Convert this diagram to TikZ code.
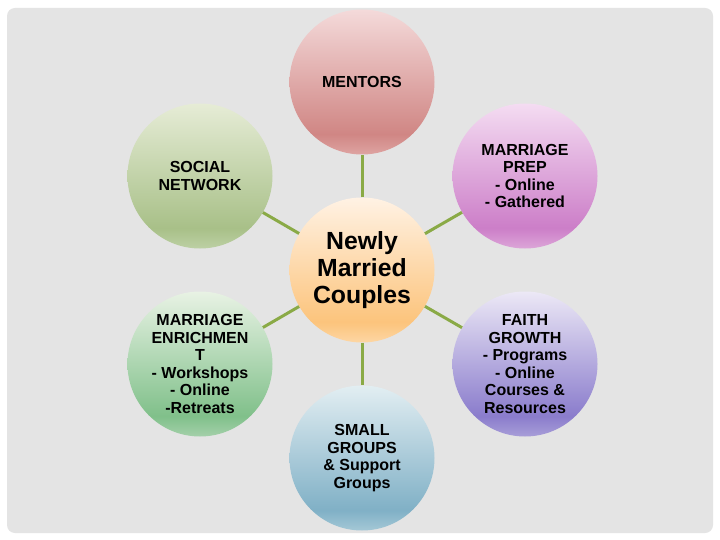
\documentclass[tikz,border=0pt]{standalone}
\usepackage{fontspec}
\setmainfont{Liberation Sans}
\usetikzlibrary{positioning}

\definecolor{pagegrey}{HTML}{E4E4E4}
\definecolor{linkgreen}{HTML}{8AAA46}

% top, dark band, bottom rim for each bubble
\definecolor{mentorsTop}{HTML}{F4DADA}\definecolor{mentorsMid}{HTML}{D08684}\definecolor{mentorsBot}{HTML}{DEA4A2}
\definecolor{prepTop}{HTML}{F4DCF2}\definecolor{prepMid}{HTML}{CC7EC8}\definecolor{prepBot}{HTML}{DCA6D8}
\definecolor{faithTop}{HTML}{ECE8F6}\definecolor{faithMid}{HTML}{8A7CCC}\definecolor{faithBot}{HTML}{A89ED8}
\definecolor{smallTop}{HTML}{E2EEF2}\definecolor{smallMid}{HTML}{80B0C6}\definecolor{smallBot}{HTML}{A4C8D6}
\definecolor{enrichTop}{HTML}{E8F2E4}\definecolor{enrichMid}{HTML}{80C08A}\definecolor{enrichBot}{HTML}{A4D0AA}
\definecolor{socialTop}{HTML}{E6ECD6}\definecolor{socialMid}{HTML}{A8C088}\definecolor{socialBot}{HTML}{BCD0A4}
\definecolor{hubTop}{HTML}{FFF2E4}\definecolor{hubMid}{HTML}{FCC47C}\definecolor{hubBot}{HTML}{FDD6A4}

\newcommand{\bubbleshading}[1]{%
  \pgfdeclareverticalshading{#1shade}{100bp}{color(0bp)=(#1Bot); color(25bp)=(#1Bot);
    color(32bp)=(#1Mid); color(75bp)=(#1Top); color(100bp)=(#1Top)}}
\bubbleshading{mentors}\bubbleshading{prep}\bubbleshading{faith}
\bubbleshading{small}\bubbleshading{enrich}\bubbleshading{social}\bubbleshading{hub}

\tikzset{
  bubble/.style={circle, minimum size=145pt, inner sep=0pt, shade, shading=#1shade,
    align=center, text=black, font=\bfseries\fontsize{16}{17.6}\selectfont},
  link/.style={draw=linkgreen, line width=3pt}
}

\begin{document}
\begin{tikzpicture}[x=1pt,y=-1pt]
  % page
  \fill[white] (0,0) rectangle (720,540);
  \fill[pagegrey, rounded corners=8pt] (7,8) rectangle (713,533);

  % bubbles
  \node[bubble=hub, font=\bfseries\fontsize{24.8}{27}\selectfont] (hub) at (362,270) {Newly\\Married\\Couples};
  \node[bubble=mentors] (mentors) at (362,82) {MENTORS};
  \node[bubble=prep] (prep) at (525,176) {MARRIAGE\\PREP\\- Online\\- Gathered};
  \node[bubble=faith] (faith) at (525,364) {FAITH\\GROWTH\\- Programs\\- Online\\Courses \&\\Resources};
  \node[bubble=small] (small) at (362,458) {SMALL\\GROUPS\\\& Support\\Groups};
  \node[bubble=enrich] (enrich) at (200,364) {MARRIAGE\\ENRICHMEN\\T\\- Workshops\\- Online\\-Retreats};
  \node[bubble=social] (social) at (200,176) {SOCIAL\\NETWORK};

  % spokes
  \foreach \n in {mentors,prep,faith,small,enrich,social}
    \draw[link] (hub) -- (\n);
\end{tikzpicture}
\end{document}
